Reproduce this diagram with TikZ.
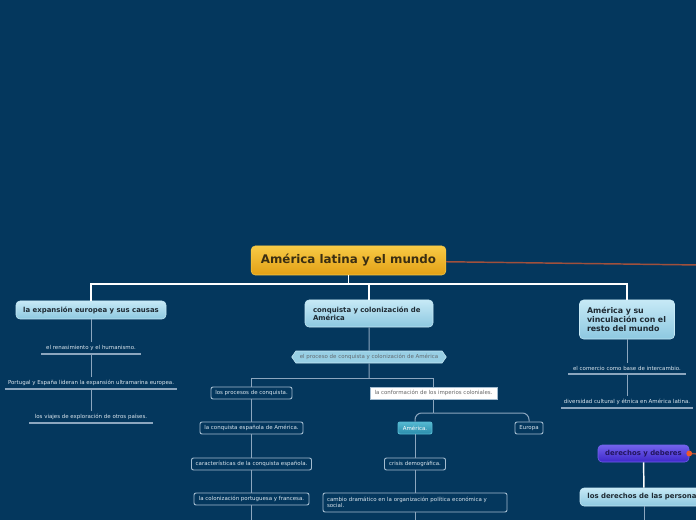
\documentclass[tikz,border=0pt]{standalone}
\usepackage{fontspec}
\setmainfont{DejaVu Sans}
\usepackage{tikz}
\usetikzlibrary{shapes.symbols}
\definecolor{bg}{HTML}{04375D}
\definecolor{rootA}{HTML}{F8CA45}
\definecolor{rootB}{HTML}{E2A015}
\definecolor{rootT}{HTML}{3A2E12}
\definecolor{skyA}{HTML}{C6E9F6}
\definecolor{skyB}{HTML}{8DC8E0}
\definecolor{skyT}{HTML}{1E2A33}
\definecolor{tealA}{HTML}{55B9D2}
\definecolor{tealB}{HTML}{2A8BAA}
\definecolor{violA}{HTML}{7262EC}
\definecolor{violB}{HTML}{3E27C9}
\definecolor{violT}{HTML}{22155E}
\definecolor{cline}{HTML}{8CA6BE}
\definecolor{cbox}{HTML}{A3BCD0}
\definecolor{ctext}{HTML}{DCE7EF}
\definecolor{cred}{HTML}{A0503C}
\definecolor{cdot}{HTML}{F05A28}

\begin{document}
\begin{tikzpicture}[x=0.75pt, y=-0.75pt, font=\fontsize{4.1}{5}\selectfont,
    rt/.style={draw=rootA, rounded corners=3pt, top color=rootA, bottom color=rootB,
               minimum width=146pt, minimum height=21.75pt, inner sep=0pt,
               font=\fontsize{8.9}{10}\selectfont\bfseries, text=rootT},
    l1/.style={draw=skyA, rounded corners=3pt, top color=skyA, bottom color=skyB,
               inner sep=0pt, font=\fontsize{5.2}{6.3}\selectfont\bfseries, text=skyT},
    sb/.style={draw=cbox, line width=0.7pt, rounded corners=1.5pt, fill=bg,
               minimum height=9pt, inner sep=0pt, text=ctext},
    it/.style={anchor=south, inner xsep=0pt, inner ysep=2.4pt, text=ctext},
    wl/.style={draw=white, line width=1.1pt},
    gl/.style={draw=cline, line width=0.75pt},
    ul/.style={draw=cline, line width=0.9pt}]
  \useasboundingbox (0,0) rectangle (696,520);
  \clip (0,0) rectangle (696,520);
  \fill[bg] (0,0) rectangle (696,520);

  % central topic and its three branches
  \node[rt] (root) at (348.5,260.5) {América latina y el mundo};
  \node[l1, minimum width=112.5pt, minimum height=13.5pt] (exp) at (91,310)
    {la expansión europea y sus causas};
  \node[l1, minimum width=96pt, minimum height=20.25pt, text width=84pt, align=left]
    (conq) at (369,313.5) {conquista y colonización de\\ América};
  \node[l1, minimum width=71.25pt, minimum height=29.25pt, text width=60pt, align=left,
    font=\fontsize{5.9}{7}\selectfont\bfseries] (amer) at (627,319.5)
    {América y su\\ vinculación con el\\ resto del mundo};
  \coordinate (j0) at (348.5,284);
  \coordinate (off1) at (700,265);
  \draw[wl] (root) -- (j0);
  \draw[wl] (j0) -| (exp);
  \draw[wl] (j0) -| (conq);
  \draw[wl] (j0) -| (amer);
  \draw[cred, line width=1.1pt] (root) -- (off1);

  % la expansion europea
  \node[it, minimum width=74.25pt] (r1) at (91,354) {el renasimiento y el humanismo.};
  \node[it, minimum width=129pt] (r2) at (91,389)
    {Portugal y España lideran la expansión ultramarina europea.};
  \node[it, minimum width=92.25pt] (r3) at (91,423) {los viajes de exploración de otros países.};
  \foreach \n in {r1,r2,r3} \draw[ul] (\n.south west) -- (\n.south east);
  \draw[gl] (exp) -- (r1);
  \draw[gl] (r1) -- (r2);
  \draw[gl] (r2) -- (r3);

  % conquista y colonizacion
  \node[shape=signal, signal to=west and east, signal pointer angle=110,
    draw=skyA, fill=skyB!80!skyA, minimum width=116pt, minimum height=9pt,
    inner sep=0pt, text=skyT!70!white] (proc) at (369,357)
    {el proceso de conquista y colonización de América};
  \node[sb, minimum width=60.75pt] (procs) at (251.5,393) {los procesos de conquista.};
  \node[sb, fill=white, draw=cbox, rounded corners=0pt, minimum width=95.25pt, text=black!60]
    (conf) at (433.5,393) {la conformación de los imperios coloniales.};
  \node[sb, minimum width=77.25pt] (esp) at (251.5,428) {la conquista española de América.};
  \node[sb, minimum width=90pt] (car) at (251.5,464) {características de la conquista española.};
  \node[sb, minimum width=86.25pt] (col) at (251.5,499) {la colonización portuguesa y francesa.};
  \node[sb, draw=tealA, top color=tealA, bottom color=tealB, text=white,
    minimum width=25.5pt] (amr) at (415,428) {América.};
  \node[sb, minimum width=21pt] (eur) at (529,428) {Europa};
  \node[sb, minimum width=45.75pt] (cri) at (415,464) {crisis demográfica.};
  \node[sb, minimum width=138pt, minimum height=14.25pt, text width=132pt, align=left,
    font=\fontsize{4.1}{5}\selectfont] (cam) at (415,502.5)
    {cambio dramático en la organización política económica y\\ social.};
  \coordinate (j1) at (369,378);
  \coordinate (j2) at (433.5,413);
  \coordinate (off3) at (251.5,525);
  \coordinate (off4) at (415,525);
  \draw[gl] (conq) -- (proc);
  \draw[gl] (proc) -- (j1);
  \draw[gl] (j1) -| (procs);
  \draw[gl] (j1) -| (conf);
  \draw[gl] (procs) -- (esp);
  \draw[gl] (esp) -- (car);
  \draw[gl] (car) -- (col);
  \draw[gl] (col) -- (off3);
  \draw[gl] (conf) -- (j2);
  \draw[gl, rounded corners=5pt] (j2) -| (amr);
  \draw[gl, rounded corners=5pt] (j2) -| (eur);
  \draw[gl] (amr) -- (cri);
  \draw[gl] (cri) -- (cam);
  \draw[gl] (cam) -- (off4);

  % America y su vinculacion
  \node[it, minimum width=87.75pt] (s1) at (627,374) {el comercio como base de intercambio.};
  \node[it, minimum width=98.25pt] (s2) at (627,408)
    {diversidad cultural y étnica en América latina.};
  \foreach \n in {s1,s2} \draw[ul] (\n.south west) -- (\n.south east);
  \draw[gl] (amer) -- (s1);
  \draw[gl] (s1) -- (s2);

  % derechos y deberes
  \node[l1, draw=violA, top color=violA, bottom color=violB, text=violT,
    minimum width=68.25pt, minimum height=12.75pt] (der) at (643.5,453.5) {derechos y deberes};
  \node[l1, minimum width=96pt, minimum height=13.5pt] (pers) at (644,497)
    {los derechos de las personas};
  \coordinate (off5) at (700,454);
  \coordinate (off2) at (644,525);
  \draw[cred, line width=1.1pt] (der.east) -- (off5);
  \fill[cdot] (der.east) circle (2.2pt);
  \draw[wl] (der) -- (pers);
  \draw[gl] (pers) -- (off2);
\end{tikzpicture}
\end{document}
